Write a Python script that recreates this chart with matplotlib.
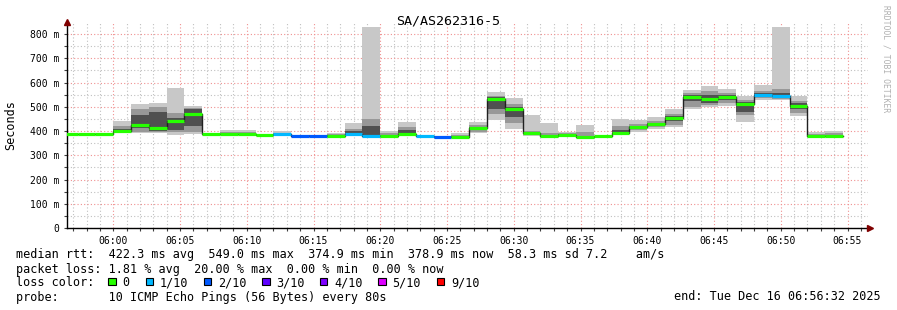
import numpy as np
import matplotlib
matplotlib.use('Agg')
import matplotlib.pyplot as plt
import matplotlib.dates as mdates
from matplotlib.patches import Rectangle
from matplotlib.ticker import FixedLocator, FuncFormatter

plt.rcParams['font.family'] = ['DejaVu Sans Mono']

# 80 s bins starting 05:56:00, values in ms
bin_start = np.datetime64('2025-12-16T05:56:00') + np.arange(44) * np.timedelta64(80, 's')

median = [386, 386, 388, 402, 427, 411, 440, 471, 386, 386, 386, 385, 386, 381, 381,
          381, 386, 381, 381, 386, 378, 377, 377, 413, 533, 491, 391, 381, 384, 375,
          379, 394, 417, 429, 454, 541, 531, 540, 510, 549, 545, 504, 380, 378]
loss = [0, 0, 0, 0, 0, 0, 0, 0, 0, 0, 0, 0, 1, 2, 2, 0, 1, 1, 0, 0, 1, 2,
        0, 0, 0, 0, 0, 0, 0, 0, 0, 0, 0, 0, 0, 0, 0, 0, 0, 1, 1, 0, 0, 0]
ping_max = [387, 387, 391, 442, 511, 517, 577, 503, 391, 403, 403, 387, 400, 383, 385,
            393, 433, 828, 400, 437, 380, 378, 393, 438, 562, 537, 466, 434, 398, 423,
            381, 448, 445, 456, 489, 569, 586, 573, 544, 590, 828, 543, 397, 400]
ping_min = [384, 384, 385, 390, 390, 390, 383, 388, 384, 384, 384, 383, 383, 379, 379,
            379, 383, 376, 379, 383, 376, 375, 375, 393, 445, 408, 381, 378, 381, 372,
            377, 383, 397, 407, 418, 489, 500, 503, 438, 528, 528, 462, 376, 374]
hi2 = [386, 386, 389, 422, 489, 500, 473, 495, 388, 395, 395, 386, 392, 382, 383,
       388, 410, 449, 392, 418, 379, 377, 385, 425, 546, 510, 400, 390, 390, 395,
       380, 420, 430, 440, 470, 555, 565, 555, 530, 565, 572, 525, 388, 390]
lo2 = [385, 385, 386, 394, 397, 395, 395, 398, 385, 385, 385, 384, 384, 380, 380,
       380, 384, 378, 380, 384, 377, 376, 376, 398, 472, 432, 384, 379, 382, 373,
       378, 388, 405, 415, 425, 500, 508, 515, 465, 535, 532, 475, 378, 376]
hi3 = [386, 386, 388, 410, 467, 478, 455, 490, 387, 388, 388, 385, 388, 381, 382,
       383, 400, 420, 384, 404, 378, 377, 379, 418, 540, 500, 394, 383, 386, 380,
       379, 405, 422, 432, 462, 548, 548, 548, 520, 555, 555, 515, 382, 380]
lo3 = [386, 386, 387, 398, 411, 402, 404, 422, 385, 386, 386, 385, 385, 381, 381,
       381, 385, 380, 381, 385, 377, 377, 377, 405, 493, 459, 387, 380, 383, 374,
       378, 390, 412, 422, 440, 525, 515, 530, 480, 545, 540, 490, 379, 377]

loss_labels = ['0', '1/10', '2/10', '3/10', '4/10', '5/10', '9/10']
loss_colors = ['#26ff00', '#00b8ff', '#0059ff', '#5e00ff', '#7e00ff', '#dd00ff', '#ff0000']

W, H = 897, 310
fig = plt.figure(figsize=(W / 100, H / 100), dpi=100)
ax = fig.add_axes([67 / W, 1 - 228 / H, 801 / W, 206 / H])

t = mdates.date2num(bin_start.astype('datetime64[ms]').astype(object))
width = 80 / 86400.0

for lo, hi, c in [(ping_min, ping_max, '#c8c8c8'), (lo2, hi2, '#989898'), (lo3, hi3, '#505050')]:
    lo = np.array(lo)
    hi = np.array(hi)
    ax.bar(t, hi - lo, bottom=lo, width=width, align='edge', color=c, linewidth=0, zorder=2)

edges = np.append(t, t[-1] + width)
ax.step(edges, list(median) + [median[-1]], where='post', color='#202020', lw=1.0, zorder=3)
ax.hlines(median, t, t + width, colors=[loss_colors[i] if i < 6 else loss_colors[6] for i in loss],
          lw=2.3, zorder=4)

x0 = mdates.date2num(np.datetime64('2025-12-16T05:56:32').astype('datetime64[ms]').astype(object))
ax.set_xlim(x0, x0 + 3600 / 86400.0)
ax.set_ylim(0, 850)

ax.xaxis.set_major_locator(mdates.MinuteLocator(byminute=range(0, 60, 5)))
ax.xaxis.set_minor_locator(mdates.MinuteLocator())
ax.xaxis.set_major_formatter(mdates.DateFormatter('%H:%M'))
ax.yaxis.set_major_locator(FixedLocator(np.arange(0, 900, 100)))
ax.yaxis.set_minor_locator(FixedLocator(np.arange(50, 850, 100)))
ax.yaxis.set_major_formatter(FuncFormatter(lambda v, p: '0' if v == 0 else f'{int(v)} m'))

ax.grid(which='major', color='#f09090', lw=0.8, linestyle=(0, (1, 2)), zorder=1)
ax.grid(which='minor', color='#c0c0c0', lw=0.8, linestyle=(0, (1, 2)), zorder=1)
ax.set_axisbelow(True)
ax.tick_params(which='both', length=2.5, width=0.8, color='#404040', labelsize=7, pad=3)

for s in ['top', 'right']:
    ax.spines[s].set_visible(False)
ax.spines['left'].set_linewidth(1.0)
ax.spines['bottom'].set_linewidth(1.0)
ax.plot([0], [1.0], marker='^', ms=4, color='#800000', transform=ax.transAxes, clip_on=False, zorder=5)
ax.plot([1.003], [0], marker='>', ms=4, color='#800000', transform=ax.transAxes, clip_on=False, zorder=5)

fig.text(448 / W, 1 - 24 / H, 'SA/AS262316-5', ha='center', va='baseline', fontsize=9.6)
fig.text(11 / W, 1 - 125 / H, 'Seconds', rotation=90, ha='center', va='center', fontsize=8.5)
fig.text(886 / W, 1 - 5 / H, 'RRDTOOL / TOBI OETIKER', rotation=270, ha='center', va='top',
         fontsize=5.8, color='#b0b0b0')

fs = 8.5
fig.text(16 / W, 1 - 258 / H,
         'median rtt:  422.3 ms avg  549.0 ms max  374.9 ms min  378.9 ms now  58.3 ms sd 7.2    am/s',
         va='baseline', fontsize=fs)
fig.text(16 / W, 1 - 272.5 / H, 'packet loss: 1.81 % avg  20.00 % max  0.00 % min  0.00 % now',
         va='baseline', fontsize=fs)
fig.text(16 / W, 1 - 286.5 / H, 'loss color:', va='baseline', fontsize=fs)
box_x = [108.3, 145.7, 204, 262.3, 320, 378.3, 436.7]
for bx, lab, col in zip(box_x, loss_labels, loss_colors):
    fig.add_artist(Rectangle((bx / W, 1 - 285 / H), 7.3 / W, 7.3 / H, transform=fig.transFigure,
                             facecolor=col, edgecolor='black', lw=0.8))
    fig.text((bx + 14.3) / W, 1 - 286.5 / H, lab, va='baseline', fontsize=fs)
fig.text(16 / W, 1 - 300.5 / H, 'probe:       10 ICMP Echo Pings (56 Bytes) every 80s',
         va='baseline', fontsize=fs)
fig.text(881 / W, 1 - 300.5 / H, 'end: Tue Dec 16 06:56:32 2025', ha='right', va='baseline', fontsize=fs)

fig.savefig('out.png', dpi=100, facecolor='white')
